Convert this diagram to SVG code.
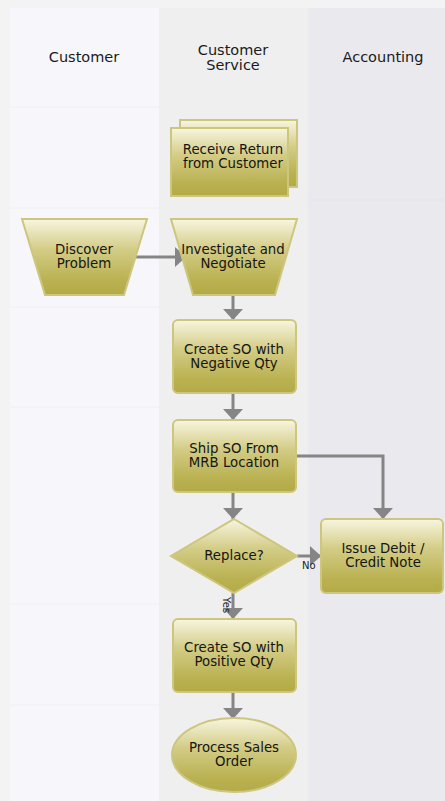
<svg xmlns="http://www.w3.org/2000/svg" width="445" height="801" viewBox="0 0 445 801">
  <style>
    .hdr { font-family: "DejaVu Sans", Verdana, sans-serif; font-size: 14.5px; fill: #1a1a1a; text-anchor: middle; }
    .lbl { font-family: "DejaVu Sans", Verdana, sans-serif; font-size: 13.3px; fill: #141414; text-anchor: middle; }
    .small { font-family: "DejaVu Sans", Verdana, sans-serif; font-size: 10px; fill: #222; }
    .shape { fill: url(#olive); stroke: #cdc67f; stroke-width: 2; }
    .conn { fill: none; stroke: #858585; stroke-width: 3; marker-end: url(#arrow); }
    .sep { stroke: #efeff4; stroke-width: 1; }
  </style>
  <defs>
    <linearGradient id="olive" x1="0" y1="0" x2="0" y2="1">
      <stop offset="0" stop-color="#f8f6e0"/>
      <stop offset="0.4" stop-color="#d3cc86"/>
      <stop offset="0.8" stop-color="#bab252"/>
      <stop offset="1" stop-color="#b3aa47"/>
    </linearGradient>
    <marker id="arrow" viewBox="0 0 11 20" markerWidth="11" markerHeight="20" refX="11" refY="10" orient="auto" markerUnits="userSpaceOnUse">
      <path d="M0,0 L11,10 L0,20 Z" fill="#858585"/>
    </marker>
  </defs>

  <!-- background and lanes -->
  <rect x="0" y="0" width="445" height="801" fill="#f3f3f3"/>
  <g id="lanes">
    <rect x="10" y="8" width="149" height="793" fill="#f7f7fb"/>
    <rect x="159" y="8" width="149" height="793" fill="#efefef"/>
    <rect x="308" y="8" width="137" height="793" fill="#e9e9ee"/>
    <line class="sep" x1="10" y1="107" x2="159" y2="107"/>
    <line class="sep" x1="10" y1="208" x2="159" y2="208"/>
    <line class="sep" x1="10" y1="307" x2="159" y2="307"/>
    <line class="sep" x1="10" y1="407" x2="159" y2="407"/>
    <line class="sep" x1="10" y1="604" x2="159" y2="604"/>
    <line class="sep" x1="10" y1="705" x2="159" y2="705"/>
    <line x1="308" y1="200" x2="445" y2="200" stroke="#e6e6eb" stroke-width="1"/>
    <text class="hdr" x="84" y="62">Customer</text>
    <text class="hdr" x="233" y="55">Customer</text>
    <text class="hdr" x="233" y="69.5">Service</text>
    <text class="hdr" x="383" y="62">Accounting</text>
  </g>

  <!-- connectors -->
  <g id="connectors">
    <line class="conn" x1="135" y1="257" x2="186" y2="257"/>
    <line class="conn" x1="233" y1="295" x2="233" y2="320"/>
    <line class="conn" x1="233" y1="393" x2="233" y2="420"/>
    <line class="conn" x1="233" y1="492" x2="233" y2="519"/>
    <polyline class="conn" points="296,456 383,456 383,519"/>
    <line class="conn" x1="297" y1="556" x2="321" y2="556"/>
    <line class="conn" x1="233" y1="593" x2="233" y2="619"/>
    <line class="conn" x1="233" y1="692" x2="233" y2="719"/>
    <text class="small" x="302" y="569">No</text>
    <text class="small" transform="translate(223,597) rotate(90)">Yes</text>
  </g>

  <g id="receive-return">
    <rect class="shape" x="180" y="120" width="117" height="67"/>
    <rect class="shape" x="171" y="128" width="117" height="68"/>
    <text class="lbl" x="233" y="154">Receive Return</text>
    <text class="lbl" x="233" y="168">from Customer</text>
  </g>

  <g id="discover-problem">
    <polygon class="shape" points="22,219 147,219 124,295 45,295"/>
    <text class="lbl" x="84" y="254">Discover</text>
    <text class="lbl" x="84" y="268">Problem</text>
  </g>

  <g id="investigate">
    <polygon class="shape" points="171,219 297,219 275,295 193,295"/>
    <text class="lbl" x="233" y="254">Investigate and</text>
    <text class="lbl" x="233" y="268">Negotiate</text>
  </g>

  <g id="create-so-negative">
    <rect class="shape" x="173" y="320" width="123" height="73" rx="5"/>
    <text class="lbl" x="234" y="354">Create SO with</text>
    <text class="lbl" x="234" y="368">Negative Qty</text>
  </g>

  <g id="ship-so">
    <rect class="shape" x="173" y="420" width="123" height="72" rx="5"/>
    <text class="lbl" x="234" y="453">Ship SO From</text>
    <text class="lbl" x="234" y="467">MRB Location</text>
  </g>

  <g id="replace">
    <polygon class="shape" points="234,519 297,556 234,593 171,556"/>
    <text class="lbl" x="234" y="560">Replace?</text>
  </g>

  <g id="issue-debit">
    <rect class="shape" x="321" y="519" width="122" height="74" rx="5"/>
    <text class="lbl" x="383" y="553">Issue Debit /</text>
    <text class="lbl" x="383" y="567">Credit Note</text>
  </g>

  <g id="create-so-positive">
    <rect class="shape" x="173" y="619" width="123" height="73" rx="5"/>
    <text class="lbl" x="234" y="652">Create SO with</text>
    <text class="lbl" x="234" y="666">Positive Qty</text>
  </g>

  <g id="process-sales-order">
    <ellipse class="shape" cx="234" cy="755" rx="62" ry="37"/>
    <text class="lbl" x="234" y="752">Process Sales</text>
    <text class="lbl" x="234" y="766">Order</text>
  </g>
</svg>
